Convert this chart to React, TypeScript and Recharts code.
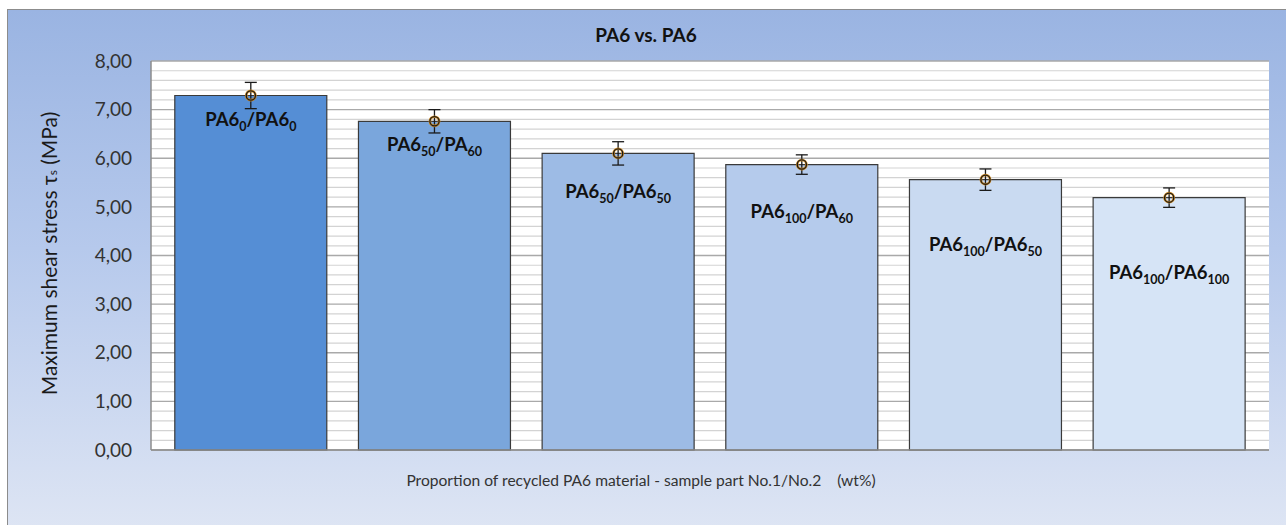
import React from 'react';
import {
    ComposedChart,
    Bar,
    Line,
    Cell,
    XAxis,
    YAxis,
    CartesianGrid,
    ErrorBar,
    LabelList,
} from 'recharts';

// sample pairs (part No.1 / part No.2)
const categories = ['PA6_0/PA6_0', 'PA6_50/PA_60', 'PA6_50/PA6_50', 'PA6_100/PA_60', 'PA6_100/PA6_50', 'PA6_100/PA6_100'];
// label pieces: [main1, sub1, main2, sub2]
const labelParts = [
    ['PA6', '0', '/PA6', '0'],
    ['PA6', '50', '/PA', '60'],
    ['PA6', '50', '/PA6', '50'],
    ['PA6', '100', '/PA', '60'],
    ['PA6', '100', '/PA6', '50'],
    ['PA6', '100', '/PA6', '100'],
];
const shearStress = [7.29, 6.76, 6.1, 5.87, 5.56, 5.19];
const stdDev = [0.27, 0.24, 0.24, 0.2, 0.22, 0.2];

const yTicks = [0, 1, 2, 3, 4, 5, 6, 7, 8];
const minorTicks = [
    0.2, 0.4, 0.6, 0.8, 1.2, 1.4, 1.6, 1.8, 2.2, 2.4, 2.6, 2.8, 3.2, 3.4, 3.6, 3.8,
    4.2, 4.4, 4.6, 4.8, 5.2, 5.4, 5.6, 5.8, 6.2, 6.4, 6.6, 6.8, 7.2, 7.4, 7.6, 7.8,
];

const BAR_COLORS = ['#558ed5', '#7aa6dc', '#9dbbe5', '#b5cbec', '#c9daf1', '#d6e4f6'];
// where each label sits below its bar top (hand placed in the original)
const LABEL_DY = [24, 23, 38, 47, 65, 75];

const FONT = 'Lato, Calibri, "Noto Sans", sans-serif';

const data = categories.map((name, i) => ({
    name,
    value: shearStress[i],
    err: stdDev[i],
}));

const fmt = (v: number) => v.toFixed(2).replace('.', ',');

function BarLabel(props: any) {
    const { x, y, width, index } = props;
    const parts = labelParts[index];
    const cx = x + width / 2;
    const cy = y + LABEL_DY[index];
    return (
        <text x={cx} y={cy + 6.5} textAnchor="middle" fontFamily={FONT} fontWeight={700} fontSize={18.5} fill="#111">
            <tspan>{parts[0]}</tspan>
            <tspan fontSize={12.5} dy={5}>{parts[1]}</tspan>
            <tspan dy={-5}>{parts[2]}</tspan>
            <tspan fontSize={12.5} dy={5}>{parts[3]}</tspan>
        </text>
    );
}

function Marker(props: any) {
    const { cx, cy } = props;
    if (cx == null || cy == null) return null;
    return (
        <g>
            <circle cx={cx} cy={cy} r={4.6} fill="none" stroke="#d08a20" strokeWidth={2.6} />
            <circle cx={cx} cy={cy} r={4.6} fill="none" stroke="#1a1a1a" strokeWidth={1.3} />
        </g>
    );
}

function YTitle(props: any) {
    const { viewBox } = props;
    const cx = 48;
    const cy = viewBox.y + viewBox.height / 2 - 2;
    return (
        <text
            x={cx}
            y={cy}
            transform={`rotate(-90, ${cx}, ${cy})`}
            textAnchor="middle"
            dominantBaseline="central"
            fontFamily={FONT}
            fontSize={21}
            fill="#1a1a1a"
        >
            <tspan>Maximum shear stress  τ</tspan>
            <tspan fontSize={12} dy={4}>s</tspan>
            <tspan dy={-4}> (MPa)</tspan>
        </text>
    );
}

function XTitle() {
    return (
        <text x={641} y={486} textAnchor="middle" fontFamily={FONT} fontSize={15.6} fill="#333">
            Proportion of recycled PA6 material - sample part No.1/No.2{'\u00a0\u00a0\u00a0\u00a0'}(wt%)
        </text>
    );
}

export default function App() {
    return (
        <div style={{ position: 'fixed', left: 0, top: 0, width: 1286, height: 525, overflow: 'hidden', background: '#fff' }}>
            <div
                style={{
                    position: 'absolute',
                    left: 7,
                    top: 9,
                    width: 1290,
                    height: 530,
                    border: '1px solid #8c8c8c',
                    background: 'linear-gradient(180deg, #9ab4e2 0%, #b6c9ec 45%, #dfe6f4 100%)',
                }}
            />
            <div style={{ position: 'absolute', left: 0, top: 0 }}>
                <svg width={1286} height={60} style={{ position: 'absolute', left: 0, top: 0 }}>
                    <text x={646} y={42} textAnchor="middle" fontFamily={FONT} fontWeight={700} fontSize={19} fill="#111">
                        PA6 vs. PA6
                    </text>
                </svg>
                <ComposedChart
                    width={1286}
                    height={525}
                    data={data}
                    margin={{ top: 61, right: 17, bottom: 0, left: 71 }}
                    barCategoryGap="8.6%"
                    style={{ position: 'absolute', left: 0, top: 0 }}
                >
                    <CartesianGrid
                        vertical={false}
                        horizontalValues={minorTicks}
                        stroke="#d3d3d3"
                        strokeWidth={1.2}
                        fill="#ffffff"
                    />
                    <CartesianGrid vertical={false} horizontalValues={yTicks} stroke="#a9a9a9" strokeWidth={1.4} />
                    <XAxis
                        dataKey="name"
                        tick={false}
                        tickLine={false}
                        padding={{ left: 8, right: 8 }}
                        axisLine={{ stroke: '#8c8c8c', strokeWidth: 1.5 }}
                        height={75}
                        label={<XTitle />}
                    />
                    <YAxis
                        domain={[0, 8]}
                        ticks={yTicks}
                        interval={0}
                        width={80}
                        tickLine={false}
                        tickMargin={13}
                        tickFormatter={fmt}
                        axisLine={{ stroke: '#8c8c8c', strokeWidth: 1.5 }}
                        tick={{ fill: '#333', fontSize: 19, fontFamily: FONT }}
                        label={<YTitle />}
                    />
                    <Bar dataKey="value" stroke="#3a3a3a" strokeWidth={1.2} isAnimationActive={false}>
                        {data.map((d, i) => (
                            <Cell key={d.name} fill={BAR_COLORS[i]} />
                        ))}
                        <ErrorBar dataKey="err" width={6} stroke="#1a1a1a" strokeWidth={1.3} direction="y" />
                        <LabelList dataKey="value" content={<BarLabel />} />
                    </Bar>
                    <Line
                        dataKey="value"
                        stroke="none"
                        dot={<Marker />}
                        activeDot={false}
                        legendType="none"
                        isAnimationActive={false}
                    />
                </ComposedChart>
            </div>
        </div>
    );
}
